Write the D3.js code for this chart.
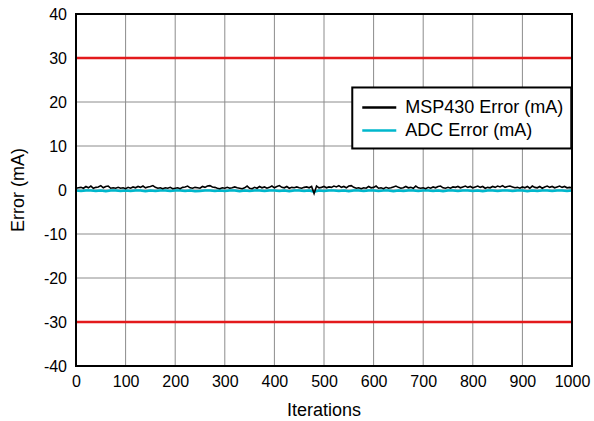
<!DOCTYPE html>
<html>
<head>
<meta charset="utf-8">
<script src="https://cdn.jsdelivr.net/npm/d3@7"></script>
<style>
  body { margin: 0; background: #fff; }
  text { font-family: "Liberation Sans", Arial, sans-serif; fill: #000; }
</style>
</head>
<body>
<div id="chart"></div>
<script>
// chart data
var xTicks = [0, 100, 200, 300, 400, 500, 600, 700, 800, 900, 1000];
var yTicks = [-40, -30, -20, -10, 0, 10, 20, 30, 40];
var limits = [30, -30];
var seriesNames = ["MSP430 Error (mA)", "ADC Error (mA)"];

// MSP430 error, one reading every 5 iterations
var msp430Step = 5;
var msp430Error = [
  0.4, 0.5, 0.6, 0.4, 0.8, 0.5, 0.9, 0.4, 0.6, 0.7,
  1.0, 0.5, 0.8, 0.9, 0.4, 0.5, 0.4, 0.6, 0.4, 0.5,
  0.3, 0.6, 0.4, 0.7, 0.5, 0.8, 0.6, 0.9, 0.5, 0.7,
  0.8, 1.0, 0.6, 0.4, 0.5, 0.3, 0.5, 0.4, 0.6, 0.3,
  0.4, 0.5, 0.3, 0.6, 0.7, 0.9, 0.5, 0.4, 0.6, 0.5,
  0.4, 0.8, 0.6, 0.9, 1.0, 0.7, 0.6, 0.4, 0.3, 0.5,
  0.4, 0.6, 0.4, 0.5, 0.7, 0.5, 0.4, 0.3, 0.5, 0.9,
  0.4, 0.3, 0.6, 0.4, 0.8, 0.5, 0.7, 0.4, 0.6, 0.9,
  0.5, 0.8, 1.0, 0.6, 0.5, 0.8, 0.4, 0.6, 0.5, 0.7,
  0.5, 0.4, 0.6, 0.7, 0.5, 0.8, -0.8, 0.9, 0.5, 0.6,
  0.8, 0.5, 0.7, 0.6, 0.9, 0.7, 1.0, 0.6, 0.8, 0.5,
  0.9, 1.0, 0.6, 0.4, 0.5, 0.3, 0.5, 0.4, 0.8, 0.5,
  0.6, 0.9, 0.4, 0.5, 0.3, 0.6, 0.4, 0.5, 0.7, 0.9,
  0.6, 0.4, 0.5, 0.8, 0.5, 0.6, 0.4, 0.9, 0.5, 0.4,
  0.5, 0.3, 0.6, 0.4, 0.7, 0.5, 0.8, 0.9, 0.5, 0.4,
  0.6, 0.4, 0.7, 0.6, 0.8, 0.5, 0.7, 0.9, 0.6, 0.8,
  0.5, 0.7, 0.9, 0.6, 0.8, 0.4, 0.6, 0.5, 0.8, 0.6,
  0.9, 0.7, 1.0, 0.6, 0.8, 0.9, 0.7, 0.5, 0.6, 0.4,
  0.7, 0.5, 0.8, 0.4, 0.9, 0.6, 0.5, 0.8, 0.4, 0.7,
  0.9, 0.6, 0.8, 0.5, 0.7, 0.9, 0.6, 0.8, 0.5, 0.6,
  0.5
];

// ADC error, one reading every 10 iterations
var adcStep = 10;
var adcError = [
  -0.1, -0.2, -0.1, -0.1, -0.2, -0.1, -0.3, -0.1, -0.1, -0.2,
  -0.1, -0.2, -0.1, -0.1, -0.3, -0.1, -0.2, -0.1, -0.1, -0.2,
  -0.1, -0.1, -0.2, -0.1, -0.3, -0.2, -0.1, -0.1, -0.2, -0.1,
  -0.2, -0.1, -0.1, -0.3, -0.1, -0.2, -0.1, -0.1, -0.2, -0.1,
  -0.1, -0.2, -0.1, -0.3, -0.1, -0.1, -0.2, -0.1, -0.4, -0.1,
  -0.2, -0.1, -0.1, -0.2, -0.1, -0.3, -0.1, -0.1, -0.2, -0.1,
  -0.1, -0.2, -0.1, -0.1, -0.3, -0.1, -0.2, -0.1, -0.1, -0.2,
  -0.1, -0.1, -0.2, -0.1, -0.3, -0.1, -0.1, -0.2, -0.1, -0.1,
  -0.2, -0.1, -0.3, -0.1, -0.1, -0.2, -0.1, -0.1, -0.2, -0.1,
  -0.1, -0.3, -0.1, -0.2, -0.1, -0.1, -0.2, -0.1, -0.1, -0.2,
  -0.1
];

var svgWidth = 594;
var svgHeight = 421;

var margin = { top: 14, right: 22, bottom: 55, left: 76 };
var chartWidth = svgWidth - margin.left - margin.right;
var chartHeight = svgHeight - margin.top - margin.bottom;

var svg = d3.select("#chart").append("svg")
  .attr("width", svgWidth)
  .attr("height", svgHeight);

var chartGroup = svg.append("g")
  .attr("transform", `translate(${margin.left}, ${margin.top})`);

var x = d3.scaleLinear().domain([0, 1000]).range([0, chartWidth]);
var y = d3.scaleLinear().domain([-40, 40]).range([chartHeight, 0]);

// grid
chartGroup.append("g")
  .selectAll("line")
  .data(xTicks.slice(1, -1))
  .enter().append("line")
  .attr("x1", d => x(d)).attr("x2", d => x(d))
  .attr("y1", 0).attr("y2", chartHeight)
  .attr("stroke", "#8c8c8c").attr("stroke-width", 1);

chartGroup.append("g")
  .selectAll("line")
  .data(yTicks.slice(1, -1))
  .enter().append("line")
  .attr("x1", 0).attr("x2", chartWidth)
  .attr("y1", d => y(d)).attr("y2", d => y(d))
  .attr("stroke", "#8c8c8c").attr("stroke-width", 1);

// limit lines
chartGroup.append("g")
  .selectAll("line")
  .data(limits)
  .enter().append("line")
  .attr("x1", 0).attr("x2", chartWidth)
  .attr("y1", d => y(d)).attr("y2", d => y(d))
  .attr("stroke", "#e31a1c").attr("stroke-width", 2.5);

// series
var mspLine = d3.line()
  .x((d, i) => x(i * msp430Step))
  .y(d => y(d));

var adcLine = d3.line()
  .x((d, i) => x(i * adcStep))
  .y(d => y(d));

chartGroup.append("path")
  .datum(adcError)
  .attr("d", adcLine)
  .attr("fill", "none")
  .attr("stroke", "#00b7cc")
  .attr("stroke-width", 2.5);

chartGroup.append("path")
  .datum(msp430Error)
  .attr("d", mspLine)
  .attr("fill", "none")
  .attr("stroke", "#000")
  .attr("stroke-width", 1.6);

// axes (plain hyphen minus, no thousands comma)
var bottomAxis = d3.axisBottom(x).tickValues(xTicks).tickFormat(d => String(d)).tickSize(0).tickPadding(10);
var leftAxis = d3.axisLeft(y).tickValues(yTicks).tickFormat(d => String(d)).tickSize(0).tickPadding(9);

var xAxisG = chartGroup.append("g")
  .attr("transform", `translate(0, ${chartHeight})`)
  .call(bottomAxis);
xAxisG.select(".domain").remove();
xAxisG.selectAll("text").attr("font-size", "16px").attr("font-family", "Liberation Sans, Arial, sans-serif");

var yAxisG = chartGroup.append("g").call(leftAxis);
yAxisG.select(".domain").remove();
yAxisG.selectAll("text").attr("font-size", "16px").attr("font-family", "Liberation Sans, Arial, sans-serif");

// frame
chartGroup.append("rect")
  .attr("x", 0).attr("y", 0)
  .attr("width", chartWidth).attr("height", chartHeight)
  .attr("fill", "none")
  .attr("stroke", "#000")
  .attr("stroke-width", 2);

// axis labels
chartGroup.append("text")
  .attr("x", chartWidth / 2)
  .attr("y", chartHeight + 50)
  .attr("text-anchor", "middle")
  .attr("font-size", "18px")
  .text("Iterations");

chartGroup.append("text")
  .attr("transform", "rotate(-90)")
  .attr("x", -chartHeight / 2)
  .attr("y", -52)
  .attr("text-anchor", "middle")
  .attr("font-size", "18px")
  .text("Error (mA)");

// legend
var legend = chartGroup.append("g")
  .attr("transform", `translate(${x(557)}, ${y(23.3)})`);

legend.append("rect")
  .attr("width", 219).attr("height", 61)
  .attr("fill", "#fff")
  .attr("stroke", "#000")
  .attr("stroke-width", 2);

var legendColors = ["#000", "#00b7cc"];
seriesNames.forEach(function(name, i) {
  legend.append("line")
    .attr("x1", 10).attr("x2", 44)
    .attr("y1", 20 + i * 23).attr("y2", 20 + i * 23)
    .attr("stroke", legendColors[i])
    .attr("stroke-width", 2.5);
  legend.append("text")
    .attr("x", 53)
    .attr("y", 26 + i * 23)
    .attr("font-size", "18px")
    .text(name);
});
</script>
</body>
</html>
